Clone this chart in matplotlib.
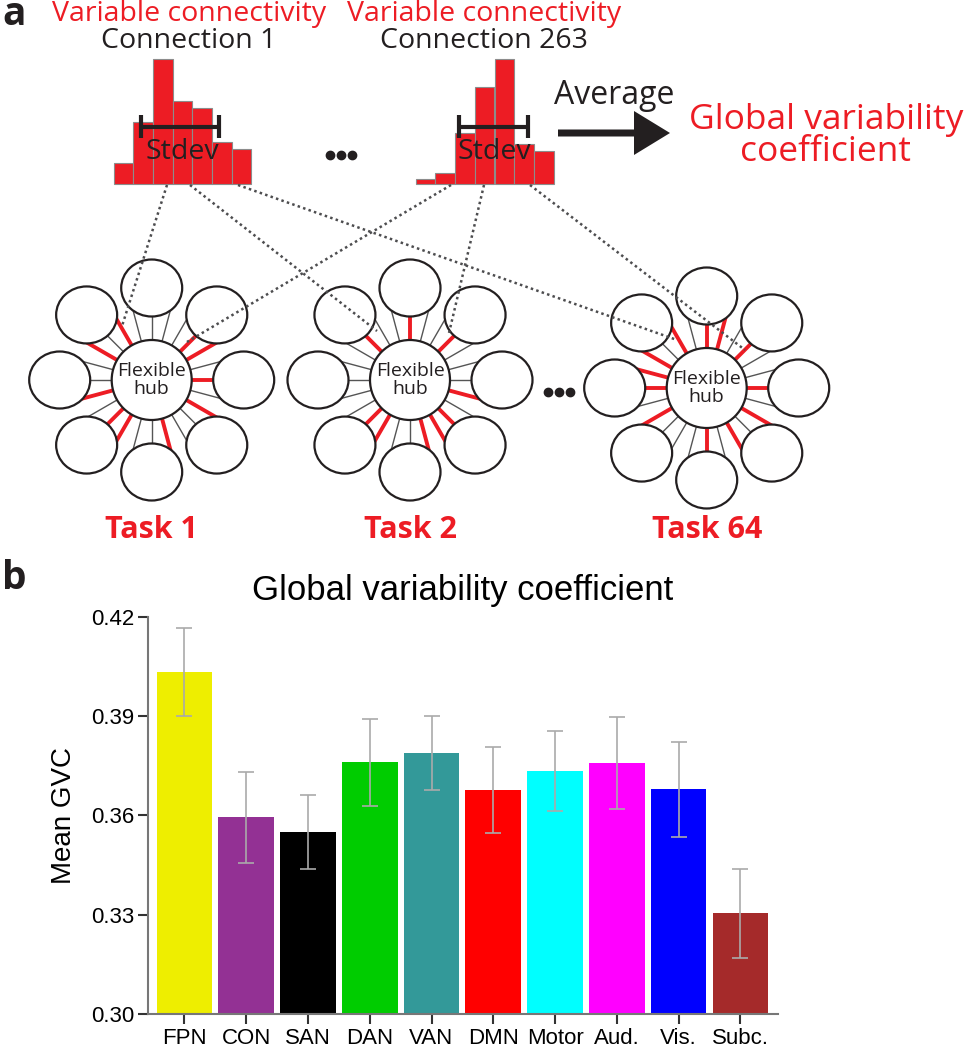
import numpy as np
import matplotlib.pyplot as plt
from matplotlib.patches import Ellipse, Circle, FancyArrow

# ---- panel b data ----
networks = ["FPN", "CON", "SAN", "DAN", "VAN", "DMN", "Motor", "Aud.", "Vis.", "Subc."]
mean_gvc = [0.4033, 0.3595, 0.3551, 0.3760, 0.3788, 0.3677, 0.3735, 0.3758, 0.3679, 0.3305]
sem_gvc = [0.0133, 0.0137, 0.0111, 0.0130, 0.0111, 0.0130, 0.0120, 0.0139, 0.0143, 0.0135]
bar_colors = ["#eeee00", "#933194", "#000000", "#00cc00", "#339999",
              "#ff0000", "#00ffff", "#ff00ff", "#0000ff", "#a52a2a"]
yticks = [0.30, 0.33, 0.36, 0.39, 0.42]

# ---- panel a schematic data ----
hist1_counts = [3, 9, 18, 12, 11, 6, 5]
hist2_counts = [0.7, 1.6, 7.3, 14, 18, 5.7, 4.8]
task_names = ["Task 1", "Task 2", "Task 64"]
# angles (deg) of hub links drawn in red for each task
red_links = [
    [0, 30, 45, 120, 150, 195, 225, 240, 285, 330],
    [45, 90, 135, 225, 240, 285, 300, 315, 345],
    [0, 45, 75, 90, 120, 150, 165, 180, 210, 270, 300, 330],
]

RED = "#ed1c24"
INK = "#231f20"
FONT_A = "Open Sans"

fig = plt.figure(figsize=(9.67, 10.5), dpi=100)

# panel a is drawn on an overlay in pixel units
ax = fig.add_axes([0, 0, 1, 1])
ax.set_xlim(0, 967)
ax.set_ylim(1050, 0)
ax.set_axis_off()


def histogram(left, counts, sd_x0, sd_x1, cx):
    binw = 19.7
    x = left + binw * np.arange(len(counts))
    ax.bar(x, -np.array(counts) * 6.94, width=binw, bottom=184, align="edge",
           color=RED, edgecolor="#8c8c8c", linewidth=0.8, zorder=2)
    ax.plot([sd_x0, sd_x1], [126.5, 126.5], color=INK, lw=3, solid_capstyle="butt", zorder=3)
    for xx in (sd_x0, sd_x1):
        ax.plot([xx, xx], [115, 138], color=INK, lw=3, solid_capstyle="butt", zorder=3)
    ax.text(cx, 152, "Stdev", ha="center", va="center", fontsize=20.5, family=FONT_A, color=INK, zorder=4)


histogram(113.5, hist1_counts, 141, 219, 182)
histogram(415.7, hist2_counts, 459, 528, 494)

for cx, num in [(189, "1"), (484, "263")]:
    ax.text(cx, 14, "Variable connectivity", ha="center", va="center", fontsize=20.5,
            family=FONT_A, color=RED)
    ax.text(cx, 41, "Connection " + num, ha="center", va="center", fontsize=20.5,
            family=FONT_A, color=INK)

ax.plot([330, 341, 352], [155, 155, 155], "o", ms=6, color=INK)
ax.plot([548, 559, 570], [392, 392, 392], "o", ms=6, color=INK)

ax.add_patch(FancyArrow(558, 133, 112, 0, width=7, head_width=44, head_length=36,
                        length_includes_head=True, color=INK, lw=0))
ax.text(614, 96, "Average", ha="center", va="center", fontsize=23, family=FONT_A, color=INK)
ax.text(826, 136, "Global variability\ncoefficient", ha="center", va="center", fontsize=25.5,
        family=FONT_A, color=RED, linespacing=0.95)

hubs = [(151.7, 380), (410, 380), (706.7, 388)]
RING = 92
EW, EH = 61, 57


def hub(cx, cy, red):
    centers = []
    for k in range(8):
        a = np.deg2rad(45 * k)
        c = np.array([cx + RING * np.cos(a), cy - RING * np.sin(a)])
        centers.append(c)
        ax.add_patch(Ellipse(c, EW, EH, fc="white", ec=INK, lw=1.6, zorder=3))
    for deg in range(0, 360, 15):
        a = np.deg2rad(deg)
        u = np.array([np.cos(a), -np.sin(a)])
        c = centers[round(deg / 45) % 8]
        d = np.array([cx, cy]) - c
        ra, rb = EW / 2, EH / 2
        A = (u[0] / ra) ** 2 + (u[1] / rb) ** 2
        B = 2 * (d[0] * u[0] / ra ** 2 + d[1] * u[1] / rb ** 2)
        C = (d[0] / ra) ** 2 + (d[1] / rb) ** 2 - 1
        t = (-B - np.sqrt(B * B - 4 * A * C)) / (2 * A) + 2
        is_red = deg in red
        ax.plot([cx, cx + t * u[0]], [cy, cy + t * u[1]],
                color=RED if is_red else "#555555", lw=2.8 if is_red else 1.0,
                solid_capstyle="butt", zorder=2)
    ax.add_patch(Circle((cx, cy), 40, fc="white", ec=INK, lw=1.6, zorder=4))
    ax.text(cx, cy, "Flexible\nhub", ha="center", va="center", fontsize=14,
            family=FONT_A, color=INK, linespacing=0.95, zorder=5)


for (hx, hy), name, red in zip(hubs, task_names, red_links):
    hub(hx, hy, red)
    ax.text(hx, 530, name, ha="center", va="center", fontsize=22, fontweight="bold",
            family=FONT_A, color=RED)

# dotted links from histograms to hub connections
links = [((167, 185), (121.7, 327)), ((190, 185), (377, 331)), ((238, 185), (677, 340)),
         ((451, 185), (187, 342)), ((484, 185), (449, 333)), ((530, 185), (745, 350))]
for (x0, y0), (x1, y1) in links:
    ax.plot([x0, x1], [y0, y1], color="#4d4d4f", lw=1.8, linestyle=(0, (1, 1.3)), zorder=6)

ax.text(2, 25, "a", ha="left", va="baseline", fontsize=28, fontweight="bold", family=FONT_A, color=INK)
ax.text(2, 589, "b", ha="left", va="baseline", fontsize=28, fontweight="bold", family=FONT_A, color=INK)

# ---- panel b ----
plt.rcParams["font.family"] = "Liberation Sans"
bx = fig.add_axes([148 / 967, 35.7 / 1050, 630 / 967, 397.6 / 1050])
xpos = np.arange(len(networks))
bx.bar(xpos, mean_gvc, width=0.9, color=bar_colors, zorder=2)
bx.errorbar(xpos, mean_gvc, yerr=sem_gvc, fmt="none", ecolor="#aaaaaa", elinewidth=1.2,
            capsize=6, capthick=1.2, zorder=3)
bx.set_xlim(-0.59, 9.61)
bx.set_ylim(0.30, 0.42)
bx.set_yticks(yticks)
bx.set_yticklabels([f"{v:.2f}" for v in yticks], fontsize=16, family="Liberation Sans")
bx.set_xticks(xpos)
bx.set_xticklabels(networks, fontsize=16, family="Liberation Sans")
for s in ("top", "right"):
    bx.spines[s].set_visible(False)
for s in ("left", "bottom"):
    bx.spines[s].set_color("#777777")
    bx.spines[s].set_linewidth(1.5)
bx.tick_params(direction="out", length=7, width=1.5, color="#333333", pad=3)
bx.set_ylabel("Mean GVC", fontsize=20, family="Liberation Sans", labelpad=10)
bx.set_title("Global variability coefficient", fontsize=25, family="Liberation Sans", pad=12)

fig.savefig("out.png", dpi=100)
